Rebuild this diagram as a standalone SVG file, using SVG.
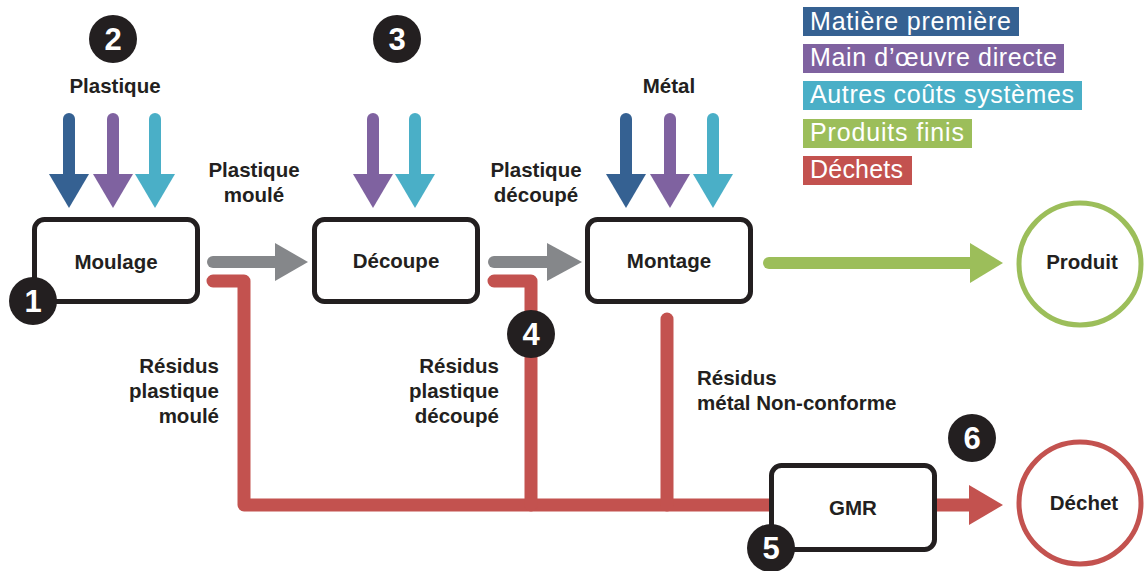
<svg xmlns="http://www.w3.org/2000/svg" width="1144" height="571" viewBox="0 0 1144 571">
<style>
.lbl{font-family:"Liberation Sans",Arial,sans-serif;font-weight:bold;font-size:20.5px;fill:#231F20}
.leg{font-family:"Liberation Sans",Arial,sans-serif;font-size:25px;fill:#ffffff}
.box{fill:#fff;stroke:#231F20;stroke-width:5}
.badge circle{fill:#231F20}
.badge text{font-family:"Liberation Sans",Arial,sans-serif;font-weight:bold;font-size:31px;fill:#fff;text-anchor:middle}
.shaft{fill:none;stroke-width:12;stroke-linecap:round}
.red{fill:none;stroke:#C3524F;stroke-width:13;stroke-linecap:round;stroke-linejoin:round}
</style>
<rect width="1144" height="571" fill="#fff"/>

<g id="legend">
<rect x="803" y="7" width="216" height="29" fill="#356192"/>
<text class="leg" x="810" y="30" textLength="201" lengthAdjust="spacing">Matière première</text>
<rect x="803" y="44" width="261" height="29" fill="#7F62A0"/>
<text class="leg" x="810" y="66" textLength="247" lengthAdjust="spacing">Main d’œuvre directe</text>
<rect x="803" y="81" width="279" height="29" fill="#4AAFC7"/>
<text class="leg" x="810" y="103" textLength="264" lengthAdjust="spacing">Autres coûts systèmes</text>
<rect x="803" y="119" width="169" height="29" fill="#9CBE5A"/>
<text class="leg" x="810" y="141" textLength="154" lengthAdjust="spacing">Produits finis</text>
<rect x="803" y="156" width="109" height="29" fill="#C3524F"/>
<text class="leg" x="810" y="178" textLength="93" lengthAdjust="spacing">Déchets</text>
</g>

<g id="connectors">
<g stroke="#356192" fill="#356192"><line class="shaft" x1="69" y1="119" x2="69" y2="178"/><polygon stroke="none" points="49,174 89,174 69,208"/></g>
<g stroke="#7F62A0" fill="#7F62A0"><line class="shaft" x1="113" y1="119" x2="113" y2="178"/><polygon stroke="none" points="93,174 133,174 113,208"/></g>
<g stroke="#4AAFC7" fill="#4AAFC7"><line class="shaft" x1="155" y1="119" x2="155" y2="178"/><polygon stroke="none" points="135,174 175,174 155,208"/></g>
<g stroke="#7F62A0" fill="#7F62A0"><line class="shaft" x1="373" y1="119" x2="373" y2="178"/><polygon stroke="none" points="353,174 393,174 373,208"/></g>
<g stroke="#4AAFC7" fill="#4AAFC7"><line class="shaft" x1="415" y1="119" x2="415" y2="178"/><polygon stroke="none" points="395,174 435,174 415,208"/></g>
<g stroke="#356192" fill="#356192"><line class="shaft" x1="626" y1="119" x2="626" y2="178"/><polygon stroke="none" points="606,174 646,174 626,208"/></g>
<g stroke="#7F62A0" fill="#7F62A0"><line class="shaft" x1="670" y1="119" x2="670" y2="178"/><polygon stroke="none" points="650,174 690,174 670,208"/></g>
<g stroke="#4AAFC7" fill="#4AAFC7"><line class="shaft" x1="713" y1="119" x2="713" y2="178"/><polygon stroke="none" points="693,174 733,174 713,208"/></g>
<g stroke="#85878A" fill="#85878A"><line class="shaft" x1="213" y1="262" x2="280" y2="262"/><polygon stroke="none" points="275,243 275,281 308,262"/></g>
<g stroke="#85878A" fill="#85878A"><line class="shaft" x1="494" y1="262" x2="552" y2="262"/><polygon stroke="none" points="547,243 547,281 582,262"/></g>
<g stroke="#9CBE5A" fill="#9CBE5A"><line class="shaft" x1="769" y1="263" x2="975" y2="263"/><polygon stroke="none" points="970,243 970,283 1003,263"/></g>
<path class="red" d="M213 281 H244 V505 H772"/>
<path class="red" d="M494 281 H531 V505"/>
<path class="red" d="M667 319 V505"/>
<g fill="#C3524F"><rect x="935" y="498.5" width="40" height="13"/><polygon points="969,485 969,525 1003,505"/></g>
</g>

<g id="moulage"><rect class="box" x="34.5" y="219.5" width="163" height="82" rx="10"/><text class="lbl" x="116" y="269" text-anchor="middle">Moulage</text></g>
<g id="decoupe"><rect class="box" x="314.5" y="219.5" width="163" height="82" rx="10"/><text class="lbl" x="396" y="268" text-anchor="middle">Découpe</text></g>
<g id="montage"><rect class="box" x="587.5" y="219.5" width="163" height="82" rx="10"/><text class="lbl" x="669" y="268" text-anchor="middle">Montage</text></g>
<g id="gmr"><rect class="box" x="771.5" y="465.5" width="163" height="84" rx="10"/><text class="lbl" x="853" y="515" text-anchor="middle">GMR</text></g>
<g id="produit"><circle cx="1080" cy="264" r="61" fill="#fff" stroke="#9CBE5A" stroke-width="5"/><text class="lbl" x="1082" y="269" text-anchor="middle">Produit</text></g>
<g id="dechet"><circle cx="1080" cy="503" r="61" fill="#fff" stroke="#C3524F" stroke-width="5"/><text class="lbl" x="1084" y="510" text-anchor="middle">Déchet</text></g>

<g id="labels">
<text class="lbl" x="115" y="93" text-anchor="middle">Plastique</text>
<text class="lbl" x="669" y="93" text-anchor="middle">Métal</text>
<text class="lbl" text-anchor="middle"><tspan x="254" y="177">Plastique</tspan><tspan x="254" y="202">moulé</tspan></text>
<text class="lbl" text-anchor="middle"><tspan x="536" y="177">Plastique</tspan><tspan x="536" y="202">découpé</tspan></text>
<text class="lbl" text-anchor="end"><tspan x="219" y="373">Résidus</tspan><tspan x="219" y="398">plastique</tspan><tspan x="219" y="423">moulé</tspan></text>
<text class="lbl" text-anchor="end"><tspan x="499" y="373">Résidus</tspan><tspan x="499" y="398">plastique</tspan><tspan x="499" y="423">découpé</tspan></text>
<text class="lbl"><tspan x="697" y="385">Résidus</tspan><tspan x="697" y="410">métal Non-conforme</tspan></text>
</g>

<g id="badge1" class="badge"><circle cx="33" cy="301" r="24"/><text x="33" y="312">1</text></g>
<g id="badge2" class="badge"><circle cx="113" cy="39" r="24"/><text x="113" y="50">2</text></g>
<g id="badge3" class="badge"><circle cx="397" cy="39" r="24"/><text x="397" y="50">3</text></g>
<g id="badge4" class="badge"><circle cx="531" cy="334" r="24"/><text x="531" y="345">4</text></g>
<g id="badge5" class="badge"><circle cx="771" cy="548" r="24"/><text x="771" y="559">5</text></g>
<g id="badge6" class="badge"><circle cx="972" cy="438" r="24"/><text x="972" y="449">6</text></g>
</svg>
